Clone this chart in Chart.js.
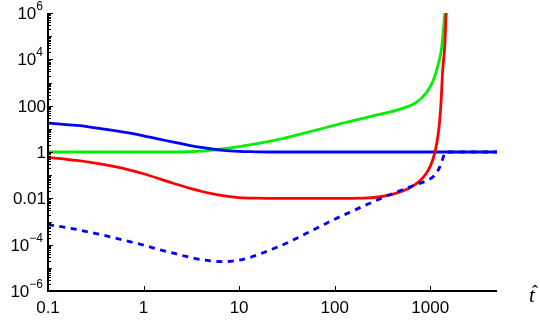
<!DOCTYPE html>
<html>
<head>
<meta charset="utf-8">
<script src="https://cdn.jsdelivr.net/npm/chart.js@4.4.1/dist/chart.umd.min.js"></script>
<style>
  html, body { margin: 0; padding: 0; background: #fff; }
  #plot { display: block; }
</style>
</head>
<body>
<canvas id="plot" width="540" height="320"></canvas>
<script>
// values (x is t-hat, both axes logarithmic)
const tBlue = [0.1, 0.2, 0.3, 0.5, 0.7, 1, 1.5, 2, 3, 4, 5, 6, 8, 10, 15, 20, 5000];
const blueSolid = [17.8, 14.0, 11.4, 8.39, 6.64, 4.99, 3.49, 2.71, 1.95, 1.58, 1.38, 1.25, 1.12, 1.057, 1.02, 1.0, 1];

const tGreen = [0.1, 1, 2, 3, 4, 5, 7, 10, 22.6, 50.6, 113, 253, 477, 716, 910, 1070, 1200, 1310, 1370, 1420];
const greenVals = [1, 1, 1, 1.023, 1.08, 1.17, 1.38, 1.70, 3.09, 6.92, 16.2, 36.3, 69.2, 138, 355, 1150, 5130, 26900, 1.6e5, 1e6];

const tRed = [0.1, 0.2, 0.3, 0.5, 0.7, 1, 1.5, 2, 3, 4, 5, 7, 10, 15, 20, 100, 200, 300, 400, 500, 600, 700, 800, 900, 1000, 1070, 1150, 1240, 1300, 1350, 1420, 1470];
const redVals = [0.589, 0.432, 0.338, 0.231, 0.171, 0.115, 0.0679, 0.046, 0.0277, 0.0202, 0.0163, 0.01268, 0.01079, 0.01016, 0.01, 0.01, 0.0102, 0.0117, 0.0148, 0.02, 0.0275, 0.0398, 0.063, 0.112, 0.24, 0.5, 1.58, 12.6, 158, 3160, 40000, 1e6];

const tDashed = [0.1, 0.2, 0.3, 0.5, 0.7, 1, 1.5, 2, 3, 4, 5, 6, 7, 8.5, 10, 13, 20, 30, 50, 70, 100, 150, 230, 400, 700, 900, 1100, 1250, 1350, 1420, 1460, 5000];
const blueDashed = [7.41e-4, 4.5e-4, 3.18e-4, 1.96e-4, 1.39e-4, 9.5e-5, 6.0e-5, 4.4e-5, 2.9e-5, 2.26e-5, 2.0e-5, 1.88e-5, 1.86e-5, 1.95e-5, 2.14e-5, 2.8e-5, 5.4e-5, 1.07e-4, 3.0e-4, 6.0e-4, 1.26e-3, 2.7e-3, 6.0e-3, 0.0158, 0.038, 0.056, 0.095, 0.21, 0.5, 0.91, 1, 1];

const xTicks = [0.1, 1, 10, 100, 1000];
const xTickLabels = ['0.1', '1', '10', '100', '1000'];
const yTicks = [1e6, 1e4, 100, 1, 0.01, 1e-4, 1e-6];
const yTickLabels = [['10', '6'], ['10', '4'], ['100', ''], ['1', ''], ['0.01', ''], ['10', '\u22124'], ['10', '\u22126']];
const xTitle = 't';

function pairs(xs, ys) {
    return xs.map((x, i) => ({ x: x, y: ys[i] }));
}

function series(data, color, dash) {
    return {
        data: data,
        borderColor: color,
        borderWidth: 2.8,
        borderDash: dash || [],
        borderCapStyle: 'butt',
        pointRadius: 0,
        fill: false,
        showLine: true,
        cubicInterpolationMode: 'monotone'
    };
}

// axes, ticks and labels in the style of the original (ticks inside, no frame)
const axesPlugin = {
    id: 'plainAxes',
    afterDatasetsDraw(chart) {
        const ctx = chart.ctx;
        const a = chart.chartArea;
        const x = chart.scales.x;
        const y = chart.scales.y;
        ctx.save();
        ctx.strokeStyle = '#000';
        ctx.fillStyle = '#000';

        ctx.lineWidth = 1;
        for (let p = -6; p <= 6; p++) {
            for (let m = 1; m < 10; m++) {
                const v = m * Math.pow(10, p);
                if (v > 1.0001e6) break;
                const py = Math.round(y.getPixelForValue(v)) + 0.5;
                const len = m > 1 ? 3 : (p % 2 === 0 ? 5 : 4);
                ctx.beginPath();
                ctx.moveTo(a.left, py);
                ctx.lineTo(a.left + len, py);
                ctx.stroke();
            }
        }
        xTicks.forEach(v => {
            const px = Math.round(x.getPixelForValue(v)) + 0.5;
            ctx.beginPath();
            ctx.moveTo(px, a.bottom);
            ctx.lineTo(px, a.bottom - 5);
            ctx.stroke();
        });

        ctx.lineWidth = 2;
        ctx.beginPath();
        ctx.moveTo(a.left, a.top);
        ctx.lineTo(a.left, a.bottom);
        ctx.lineTo(a.right, a.bottom);
        ctx.stroke();

        ctx.font = '17px "Liberation Sans", Arial, sans-serif';
        ctx.textAlign = 'center';
        ctx.textBaseline = 'alphabetic';
        xTicks.forEach((v, i) => {
            ctx.fillText(xTickLabels[i], x.getPixelForValue(v), a.bottom + 22);
        });

        yTicks.forEach((v, i) => {
            const py = y.getPixelForValue(v);
            const base = yTickLabels[i][0];
            const sup = yTickLabels[i][1];
            ctx.textAlign = 'right';
            if (sup) {
                ctx.font = '12px "Liberation Sans", Arial, sans-serif';
                const w = ctx.measureText(sup).width;
                const right = a.left - 5;
                ctx.fillText(sup, right, py - 3);
                ctx.font = '17px "Liberation Sans", Arial, sans-serif';
                ctx.fillText(base, right - w, py + 6);
            } else {
                ctx.font = '17px "Liberation Sans", Arial, sans-serif';
                ctx.fillText(base, a.left - 2, py + 6);
            }
        });

        ctx.font = 'italic 21px "Liberation Serif", serif';
        ctx.textAlign = 'center';
        ctx.fillText(xTitle, 532, 302);
        ctx.font = '18px "Liberation Serif", serif';
        ctx.fillText('\u02C6', 535, 298);
        ctx.restore();
    }
};

new Chart(document.getElementById('plot'), {
    type: 'scatter',
    data: {
        datasets: [
            series(pairs(tDashed, blueDashed), '#0000ff', [6, 5.5]),
            series(pairs(tRed, redVals), '#ff0000'),
            series(pairs(tBlue, blueSolid), '#0000ff'),
            series(pairs(tGreen, greenVals), '#00f000')
        ]
    },
    options: {
        responsive: false,
        animation: false,
        layout: { padding: { left: 48, right: 43, top: 13, bottom: 29 } },
        plugins: { legend: { display: false }, tooltip: { enabled: false } },
        scales: {
            x: { type: 'logarithmic', min: 0.1, max: 5000, display: false },
            y: { type: 'logarithmic', min: 1e-6, max: 1e6, display: false }
        }
    },
    plugins: [axesPlugin]
});
</script>
</body>
</html>
